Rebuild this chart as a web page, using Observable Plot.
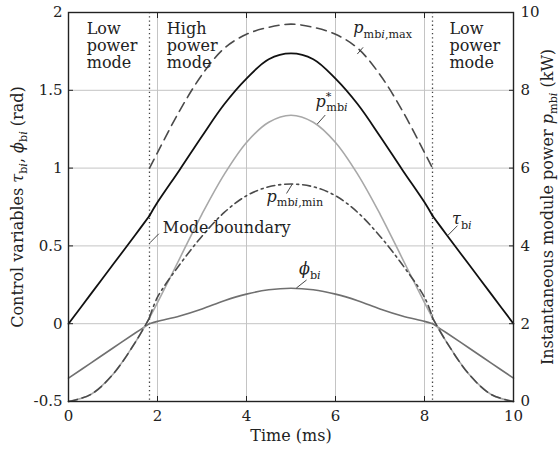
<!DOCTYPE html>
<html><head><meta charset="utf-8">
<script src="https://cdn.jsdelivr.net/npm/d3@7"></script>
<script src="https://cdn.jsdelivr.net/npm/@observablehq/plot@0.6"></script>
<style>
html,body{margin:0;padding:0;background:#fff;overflow:hidden;}
#chart svg{display:block;}
</style></head><body><div id="chart"></div>
<script>
// ---- data ----
const time   = [0, 0.5, 1, 1.5, 1.82, 2, 2.5, 3, 3.5, 4, 4.5, 5, 5.5, 6, 6.5, 7, 7.5, 8, 8.18, 8.5, 9, 9.5, 10];
// control variables (rad)
const tauBi  = [0, 0.19, 0.38, 0.57, 0.694, 0.78, 0.99, 1.205, 1.41, 1.575, 1.70, 1.737, 1.70, 1.575, 1.41, 1.205, 0.99, 0.78, 0.694, 0.57, 0.38, 0.19, 0];
const phiBi  = [-0.35, -0.253, -0.156, -0.06, 0.0, 0.015, 0.05, 0.095, 0.148, 0.19, 0.218, 0.228, 0.218, 0.19, 0.148, 0.095, 0.05, 0.015, 0.0, -0.06, -0.156, -0.253, -0.35];
// module power (kW)
const pStar  = [0, 0.18, 0.70, 1.52, 2.15, 2.54, 3.68, 4.82, 5.84, 6.66, 7.18, 7.36, 7.18, 6.66, 5.84, 4.82, 3.68, 2.54, 2.15, 1.52, 0.70, 0.18, 0];
const pMax   = [null, null, null, null, 6.0, 6.4, 7.48, 8.4, 9.08, 9.44, 9.62, 9.70, 9.62, 9.44, 9.08, 8.4, 7.48, 6.4, 6.0, null, null, null, null];
const pMin   = [null, null, null, null, 2.16, 2.68, 3.52, 4.25, 4.86, 5.29, 5.52, 5.59, 5.52, 5.29, 4.86, 4.25, 3.52, 2.68, 2.16, null, null, null, null];
const modeBoundary = [1.82, 8.18];
const xTicks = [0, 2, 4, 6, 8, 10];
const xTickLabels = ["0", "2", "4", "6", "8", "10"];
const leftTicks = [-0.5, 0, 0.5, 1, 1.5, 2];
const leftTickLabels = ["-0.5", "0", "0.5", "1", "1.5", "2"];
const rightTicks = [0, 2, 4, 6, 8, 10];
const rightTickLabels = ["0", "2", "4", "6", "8", "10"];

// ---- helpers ----
const kwToLeft = kw => kw / 4 - 0.5;           // right axis (kW) mapped onto the left axis (rad)
const segments = [[0, 4], [4, 18], [18, 22]];  // low / high / low power mode
function rows(vals, conv = v => v, keep = [0, 1, 2]) {
  const out = [];
  segments.forEach((s, k) => {
    if (!keep.includes(k)) return;
    for (let i = s[0]; i <= s[1]; i++) if (vals[i] != null) out.push({t: time[i], v: conv(vals[i]), seg: k});
  });
  return out;
}

const FONT = "DejaVu Serif";
const ink = "#222";
const FS = 16;

const annotations = [
  {key: "L_pmax", x: 6.40, y: 1.899},
  {key: "L_pstar", x: 5.55, y: 1.427},
  {key: "L_pmin", x: 4.45, y: 0.816},
  {key: "Mode boundary", x: 2.12, y: 0.617},
  {key: "L_phi", x: 5.18, y: 0.35},
  {key: "L_tau", x: 8.62, y: 0.672}
];
const leaders = [
  {x1: 6.49, y1: 1.733, x2: 6.62, y2: 1.776},
  {x1: 5.59, y1: 1.283, x2: 5.77, y2: 1.341},
  {x1: 4.90, y1: 0.837, x2: 5.03, y2: 0.898},
  {x1: 1.83, y1: 0.52, x2: 2.03, y2: 0.578},
  {x1: 5.12, y1: 0.229, x2: 5.35, y2: 0.281},
  {x1: 8.52, y1: 0.566, x2: 8.74, y2: 0.63}
];
const modeLabels = [
  {x: 0.41, text: "Low\npower\nmode"},
  {x: 2.21, text: "High\npower\nmode"},
  {x: 8.56, text: "Low\npower\nmode"}
];

const rich = {
  L_pmax: [{t: "p", i: 1}, {t: "mb", s: "sub"}, {t: "i", s: "sub", i: 1}, {t: ",max", s: "sub"}],
  L_pstar: [{t: "p", i: 1}, {t: "*", s: "sup"}, {t: "mb", s: "sub", dx: -5}, {t: "i", s: "sub", i: 1}],
  L_pmin: [{t: "p", i: 1}, {t: "mb", s: "sub"}, {t: "i", s: "sub", i: 1}, {t: ",min", s: "sub"}],
  L_phi: [{t: "ϕ", i: 1}, {t: "b", s: "sub"}, {t: "i", s: "sub", i: 1}],
  L_tau: [{t: "τ", i: 1}, {t: "b", s: "sub"}, {t: "i", s: "sub", i: 1}],
  T_left: [{t: "Control variables "}, {t: "τ", i: 1}, {t: "b", s: "sub"}, {t: "i", s: "sub", i: 1}, {t: ", "},
           {t: "ϕ", i: 1}, {t: "b", s: "sub"}, {t: "i", s: "sub", i: 1}, {t: " (rad)"}],
  T_right: [{t: "Instantaneous module power "}, {t: "p", i: 1}, {t: "mb", s: "sub"}, {t: "i", s: "sub", i: 1}, {t: " (kW)"}]
};

const lineStyle = {x: "t", y: "v", z: "seg", curve: "catmull-rom", strokeWidth: 1.6};

const plot = Plot.plot({
  width: 559, height: 449,
  marginLeft: 68, marginRight: 46, marginTop: 12, marginBottom: 48,
  style: `font-family: ${FONT}; font-size: 15px; color: ${ink}; background: #fff;`,
  x: {domain: [0, 10]},
  y: {domain: [-0.5, 2]},
  marks: [
    Plot.gridX([2, 4, 6, 8], {stroke: "#c4c4c4", strokeOpacity: 1, strokeWidth: 1}),
    Plot.gridY([0, 0.5, 1, 1.5], {stroke: "#c4c4c4", strokeOpacity: 1, strokeWidth: 1}),
    Plot.ruleX(modeBoundary, {stroke: "#444", strokeDasharray: "1.3,2.9", strokeWidth: 1.3}),
    Plot.line(rows(phiBi), {...lineStyle, stroke: "#707070"}),
    Plot.line(rows(pStar, kwToLeft), {...lineStyle, stroke: "#a8a8a8"}),
    Plot.line(rows(pStar, kwToLeft, [0, 2]), {...lineStyle, stroke: "#4a4a4a", strokeDasharray: "9,5"}),
    Plot.line(rows(pMin, kwToLeft), {...lineStyle, stroke: "#4a4a4a", strokeDasharray: "8,4,2,4"}),
    Plot.line(rows(pMax, kwToLeft), {...lineStyle, stroke: "#4a4a4a", strokeDasharray: "10,6"}),
    Plot.line(rows(tauBi), {...lineStyle, stroke: "#111", strokeWidth: 1.8}),
    Plot.link(leaders, {x1: "x1", y1: "y1", x2: "x2", y2: "y2", stroke: "#333", strokeWidth: 0.9}),
    Plot.frame({stroke: ink, strokeWidth: 1.4}),
    Plot.axisX(xTicks, {anchor: "bottom", tickSize: -5, tickPadding: 14, fontSize: 15, fontFamily: FONT,
      tickFormat: d => xTickLabels[xTicks.indexOf(d)], label: null}),
    Plot.axisX(xTicks, {anchor: "top", tickSize: -5, tickFormat: () => "", label: null}),
    Plot.axisY(leftTicks, {anchor: "left", tickSize: -5, tickPadding: 11, fontSize: 15, fontFamily: FONT,
      tickFormat: d => leftTickLabels[leftTicks.indexOf(d)], label: null}),
    Plot.axisY(rightTicks.map(kwToLeft), {anchor: "right", tickSize: -5, tickPadding: 12, fontSize: 15, fontFamily: FONT,
      tickFormat: d => rightTickLabels[rightTicks.indexOf(Math.round((d + 0.5) * 4))], label: null}),
    Plot.text(modeLabels, {x: "x", y: () => 2, text: "text", textAnchor: "start", lineAnchor: "top",
      dy: 10, lineHeight: 1.05, fontSize: FS, fontFamily: FONT, fill: ink}),
    Plot.text(annotations, {x: "x", y: "y", text: "key", textAnchor: "start", lineAnchor: "middle", fontSize: FS, fontFamily: FONT, fill: ink}),
    Plot.text(["T_left"], {y: () => 0.75, frameAnchor: "left", text: d => d, rotate: -90, dx: -51,
      textAnchor: "middle", lineAnchor: "middle", fontSize: FS, fontFamily: FONT, fill: ink}),
    Plot.text(["T_right"], {y: () => 0.75, frameAnchor: "right", text: d => d, rotate: -90, dx: 34,
      textAnchor: "middle", lineAnchor: "middle", fontSize: FS, fontFamily: FONT, fill: ink}),
    Plot.text(["Time (ms)"], {x: () => 5, frameAnchor: "bottom", text: d => d, dy: 34,
      textAnchor: "middle", lineAnchor: "middle", fontSize: FS, fontFamily: FONT, fill: ink})
  ]
});

// rich text (italic symbols, subscripts, superscripts)
function richify(el, segs, size) {
  const sel = d3.select(el);
  sel.text(null);
  let shift = 0;
  segs.forEach(sg => {
    const target = sg.s === "sub" ? 0.28 * size : sg.s === "sup" ? -0.4 * size : 0;
    const ts = sel.append("tspan").text(sg.t);
    if (target !== shift) ts.attr("dy", target - shift);
    if (sg.dx) ts.attr("dx", sg.dx);
    shift = target;
    if (sg.s) ts.attr("font-size", 0.7 * size);
    if (sg.i) ts.attr("font-style", "italic");
  });
}
plot.querySelectorAll("text").forEach(el => {
  const k = el.textContent;
  if (rich[k]) richify(el, rich[k], FS);
});
document.getElementById("chart").appendChild(plot);
</script>
</body></html>
